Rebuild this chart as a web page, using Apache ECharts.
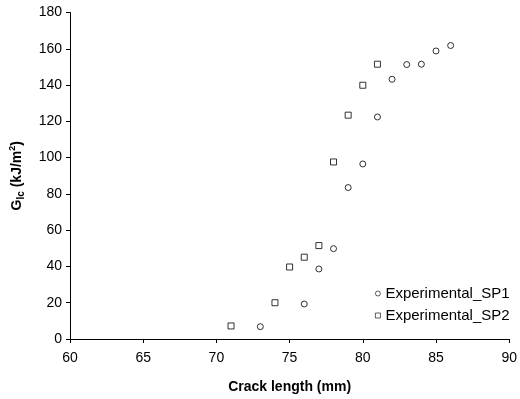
<!DOCTYPE html>
<html>
<head>
<meta charset="utf-8">
<script src="https://cdn.jsdelivr.net/npm/echarts@6/dist/echarts.min.js"></script>
<style>
  html, body { margin: 0; padding: 0; background: #fff; }
  #chart { width: 520px; height: 399px; }
</style>
</head>
<body>
<div id="chart"></div>
<script>
// crack length (mm) / G_Ic (kJ/m^2)
const sp1Crack = [73, 76, 77, 78, 79, 80, 81, 82, 83, 84, 85, 86];
const sp1Gic   = [6.8, 19.3, 38.6, 49.8, 83.5, 96.5, 122.4, 143.2, 151.3, 151.5, 158.8, 161.8];
const sp2Crack = [71, 74, 75, 76, 77, 78, 79, 80, 81];
const sp2Gic   = [7.2, 20.0, 39.7, 45.1, 51.5, 97.6, 123.4, 139.9, 151.5];
const seriesNames = ['Experimental_SP1', 'Experimental_SP2'];

const pairs = (xs, ys) => xs.map((x, i) => [x, ys[i]]);

const font = 'Arial, "Liberation Sans", sans-serif';
const axisColor = '#000';

const chart = echarts.init(document.getElementById('chart'));
chart.setOption({
  animation: false,
  grid: { left: 69.5, right: 8.5, top: 12.5, bottom: 60 },
  textStyle: { fontFamily: font },
  legend: {
    orient: 'vertical',
    left: 370,
    top: 281,
    itemWidth: 5,
    itemHeight: 5,
    itemGap: 7,
    itemStyle: { color: '#fff', borderColor: '#000', borderWidth: 0.8 },
    textStyle: { fontSize: 15, color: '#000', fontFamily: font },
    data: [
      { name: seriesNames[0], icon: 'circle' },
      { name: seriesNames[1], icon: 'rect' }
    ]
  },
  xAxis: {
    type: 'value',
    min: 60, max: 90, interval: 5,
    name: 'Crack length (mm)',
    nameLocation: 'middle',
    nameGap: 41,
    nameTextStyle: { fontSize: 14, fontWeight: 'bold', color: '#000', fontFamily: font },
    axisLine: { lineStyle: { color: axisColor, width: 1 } },
    axisTick: { show: true, length: 4, lineStyle: { color: axisColor } },
    axisLabel: { fontSize: 14, color: '#000', margin: 12, fontFamily: font },
    splitLine: { show: false }
  },
  yAxis: {
    type: 'value',
    min: 0, max: 180, interval: 20,
    name: '{b|G}{sub|Ic}{b| (kJ/m}{sup|2}{b|)}',
    nameLocation: 'middle',
    nameGap: 44,
    nameTextStyle: {
      color: '#000', fontFamily: font,
      rich: {
        b: { fontSize: 14, fontWeight: 'bold', color: '#000', fontFamily: font, lineHeight: 18 },
        sub: { fontSize: 10, fontWeight: 'bold', color: '#000', fontFamily: font, verticalAlign: 'bottom', lineHeight: 18, padding: [6, 0, 0, 0] },
        sup: { fontSize: 9, fontWeight: 'bold', color: '#000', fontFamily: font, verticalAlign: 'top', lineHeight: 18, padding: [0, 0, 6, 0] }
      }
    },
    axisLine: { show: true, lineStyle: { color: axisColor, width: 1 } },
    axisTick: { show: true, length: 4, lineStyle: { color: axisColor } },
    axisLabel: { fontSize: 14, color: '#000', margin: 8, fontFamily: font },
    splitLine: { show: false }
  },
  series: [
    {
      name: seriesNames[0],
      type: 'scatter',
      symbol: 'circle',
      symbolSize: 6,
      data: pairs(sp1Crack, sp1Gic),
      itemStyle: { color: '#fff', borderColor: '#000', borderWidth: 1 }
    },
    {
      name: seriesNames[1],
      type: 'scatter',
      symbol: 'rect',
      symbolSize: 6,
      data: pairs(sp2Crack, sp2Gic),
      itemStyle: { color: '#fff', borderColor: '#000', borderWidth: 1 }
    }
  ]
});
</script>
</body>
</html>
